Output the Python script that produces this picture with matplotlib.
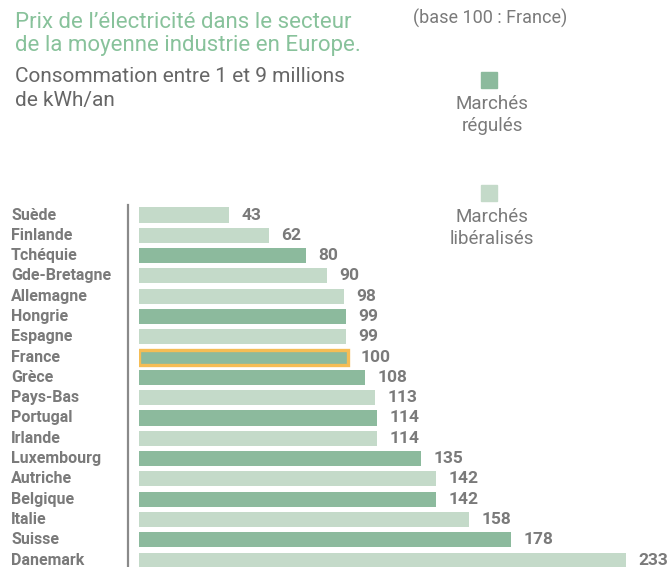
import numpy as np
import matplotlib
matplotlib.use('Agg')
import matplotlib.pyplot as plt
from matplotlib.transforms import blended_transform_factory
from matplotlib.patches import Rectangle

pays = ['Suède', 'Finlande', 'Tchéquie', 'Gde-Bretagne', 'Allemagne', 'Hongrie',
        'Espagne', 'France', 'Grèce', 'Pays-Bas', 'Portugal', 'Irlande',
        'Luxembourg', 'Autriche', 'Belgique', 'Italie', 'Suisse', 'Danemark']
prix = [43, 62, 80, 90, 98, 99, 99, 100, 108, 113, 114, 114, 135, 142, 142, 158, 178, 233]
# True = marché régulé, False = marché libéralisé
regule = [False, False, True, False, False, True, False, True, True, False,
          True, False, True, False, True, False, True, False]

c_regule = '#8cba9d'
c_libre = '#c4dac9'
c_titre = '#88c29b'
c_gris = '#7a7a7a'
c_orange = '#f5bd55'

plt.rcParams['font.family'] = ['Roboto', 'DejaVu Sans']

W, H = 667, 567
fig = plt.figure(figsize=(W / 100, H / 100), dpi=100)

# axes placed in pixels: x=0 at 139 px, 2.09 px per unit ; rows every 20.3 px from y=215
x0, ppu = 139, 2.09
xmax = 255
y_top, row = 215, 20.3
top_px = y_top - row / 2
bot_px = y_top + row * (len(pays) - 0.5)
ax = fig.add_axes([x0 / W, 1 - bot_px / H, xmax * ppu / W, (bot_px - top_px) / H])

y = np.arange(len(pays))
cols = [c_regule if r else c_libre for r in regule]
bars = ax.barh(y, prix, height=0.74, color=cols, zorder=2)

# France highlighted
i_fr = pays.index('France')
bars[i_fr].set_edgecolor(c_orange)
bars[i_fr].set_linewidth(2.4)

ax.set_xlim(0, xmax)
ax.set_ylim(len(pays) - 0.5, -0.5)
ax.set_xticks([])
ax.set_yticks([])
for s in ['top', 'right', 'bottom']:
    ax.spines[s].set_visible(False)
ax.spines['left'].set_position(('outward', 8))
ax.spines['left'].set_color('#8a8a8a')
ax.spines['left'].set_linewidth(1.6)

tr = blended_transform_factory(fig.transFigure, ax.transData)
for i, p in enumerate(pays):
    ax.text(11 / W, i, p, transform=tr, ha='left', va='center',
            fontsize=11.5, fontweight='bold', color=c_gris, clip_on=False)

for i, v in enumerate(prix):
    ax.annotate(str(v), (v, i), xytext=(9, 0), textcoords='offset points',
                ha='left', va='center', fontsize=12.5, fontweight='bold',
                color=c_gris, annotation_clip=False)

# titles
fig.text(15 / W, 1 - 22 / H, "Prix de l’électricité dans le secteur",
         fontsize=16, color=c_titre, va='center', ha='left')
fig.text(15 / W, 1 - 46 / H, "de la moyenne industrie en Europe.",
         fontsize=16, color=c_titre, va='center', ha='left')
fig.text(15 / W, 1 - 77 / H, "Consommation entre 1 et 9 millions",
         fontsize=15, color='#666666', va='center', ha='left')
fig.text(15 / W, 1 - 101 / H, "de kWh/an",
         fontsize=15, color='#666666', va='center', ha='left')
fig.text(413 / W, 1 - 18 / H, "(base 100 : France)",
         fontsize=13, color=c_gris, va='center', ha='left')

# legend
legende = [(c_regule, 'Marchés\nrégulés', 80), (c_libre, 'Marchés\nlibéralisés', 193)]
for col, lab, yc in legende:
    fig.patches.append(Rectangle(((489 - 8) / W, 1 - (yc + 8) / H), 16 / W, 16 / H,
                                 transform=fig.transFigure, color=col))
    fig.text(492 / W, 1 - (yc + 35) / H, lab, fontsize=13.5, color=c_gris,
             ha='center', va='center', linespacing=1.25)

fig.savefig('out.png', dpi=100)
